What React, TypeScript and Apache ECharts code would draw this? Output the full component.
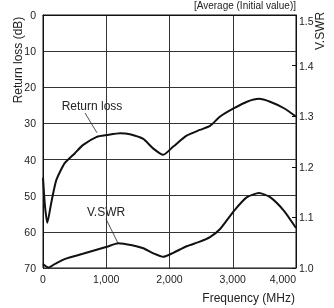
import React, { useEffect, useRef } from "react";
import * as echarts from "echarts";

const rlFreq = [0, 30, 68, 130, 210, 343, 500, 630, 850, 1010, 1220, 1375, 1585, 1740, 1900, 2060, 2270, 2480, 2640, 2800, 3020, 3225, 3415, 3590, 3810, 4000];
const returnLoss = [45, 52.6, 57.5, 52, 45.7, 41, 38.3, 36, 33.7, 33.2, 32.7, 33, 34.3, 36.9, 38.7, 36.4, 33.4, 31.8, 30.7, 28.1, 25.8, 24, 23.2, 24, 25.8, 28.1];
const vsFreq = [0, 84, 190, 350, 630, 1010, 1190, 1410, 1585, 1745, 1900, 2060, 2270, 2480, 2640, 2800, 3020, 3225, 3415, 3590, 3810, 4000];
const vswr = [1.008, 1.001, 1.008, 1.018, 1.028, 1.042, 1.049, 1.045, 1.039, 1.029, 1.022, 1.03, 1.043, 1.052, 1.061, 1.077, 1.113, 1.14, 1.148, 1.14, 1.113, 1.079];

const FONT = "Liberation Sans, Arial, Helvetica, sans-serif";
const TXT = "#222";

export default function App() {
  const ref = useRef<HTMLDivElement>(null);
  useEffect(() => {
    if (!ref.current) return;
    const chart = echarts.init(ref.current, undefined, { renderer: "svg" });
    chart.setOption({
      animation: false,
      textStyle: { fontFamily: FONT },
      grid: { left: 43, top: 15, right: 38, bottom: 40, show: true, borderColor: "#111", borderWidth: 1 },
      xAxis: {
        type: "value",
        min: 0,
        max: 4000,
        interval: 1000,
        axisLine: { show: true, lineStyle: { color: "#111", width: 1 } },
        axisTick: { show: false },
        splitLine: { show: true, lineStyle: { color: "#333", width: 1 } },
        axisLabel: {
          color: TXT,
          fontSize: 10.5,
          fontFamily: FONT,
          margin: 5,
          alignMaxLabel: "right",
          formatter: (v: number) => v.toLocaleString("en-US"),
        },
      },
      yAxis: [
        {
          type: "value",
          inverse: true,
          min: 0,
          max: 70,
          interval: 10,
          axisLine: { show: true, lineStyle: { color: "#111" } },
          axisTick: { show: false },
          splitLine: { show: true, lineStyle: { color: "#333", width: 1 } },
          axisLabel: { color: TXT, fontSize: 10.5, fontFamily: FONT, margin: 7 },
        },
        {
          type: "value",
          position: "right",
          min: 1.0,
          max: 1.5,
          interval: 0.1,
          axisLine: { show: true, lineStyle: { color: "#111" } },
          axisTick: { show: true, inside: true, length: 4, lineStyle: { color: "#111" } },
          splitLine: { show: false },
          axisLabel: {
            color: TXT,
            fontSize: 10.5,
            fontFamily: FONT,
            margin: 3,
            verticalAlignMaxLabel: "top",
            formatter: (v: number) => v.toFixed(1),
          },
        },
      ],
      series: [
        {
          type: "line",
          yAxisIndex: 0,
          data: rlFreq.map((f, i) => [f, returnLoss[i]]),
          symbol: "none",
          smooth: 0.2,
          lineStyle: { color: "#111", width: 2 },
          markLine: {
            silent: true,
            symbol: ["none", "arrow"],
            symbolSize: [0, 6],
            label: { show: false },
            lineStyle: { color: "#222", width: 0.8, type: "solid" },
            data: [[{ coord: [664, 27.1] }, { coord: [854, 32.6] }]],
          },
        },
        {
          type: "line",
          yAxisIndex: 1,
          data: vsFreq.map((f, i) => [f, vswr[i]]),
          symbol: "none",
          smooth: 0.2,
          lineStyle: { color: "#111", width: 2 },
          markLine: {
            silent: true,
            symbol: ["none", "arrow"],
            symbolSize: [0, 6],
            label: { show: false },
            lineStyle: { color: "#222", width: 0.8, type: "solid" },
            data: [[{ coord: [996, 1.097] }, { coord: [1186, 1.049] }]],
          },
        },
      ],
      graphic: [
        {
          type: "text",
          right: 38,
          top: 0,
          style: { text: "[Average (Initial value)]", fill: TXT, fontSize: 10, fontFamily: FONT },
        },
        {
          type: "text",
          x: 17.5,
          y: 60,
          rotation: Math.PI / 2,
          style: { text: "Return loss (dB)", fill: TXT, fontSize: 12, fontFamily: FONT, align: "center", verticalAlign: "middle" },
        },
        {
          type: "text",
          x: 320,
          y: 31,
          rotation: Math.PI / 2,
          style: { text: "V.SWR", fill: TXT, fontSize: 12, fontFamily: FONT, align: "center", verticalAlign: "middle" },
        },
        {
          type: "text",
          x: 295,
          y: 298,
          style: { text: "Frequency (MHz)", fill: TXT, fontSize: 12, fontFamily: FONT, align: "right", verticalAlign: "middle" },
        },
        {
          type: "text",
          x: 92,
          y: 106,
          style: { text: "Return loss", fill: TXT, fontSize: 12, fontFamily: FONT, align: "center", verticalAlign: "middle" },
        },
        {
          type: "text",
          x: 106,
          y: 212,
          style: { text: "V.SWR", fill: TXT, fontSize: 12, fontFamily: FONT, align: "center", verticalAlign: "middle" },
        },
      ],
    });
    return () => chart.dispose();
  }, []);
  return <div ref={ref} style={{ position: "fixed", left: 0, top: 0, width: 334, height: 308 }} />;
}
